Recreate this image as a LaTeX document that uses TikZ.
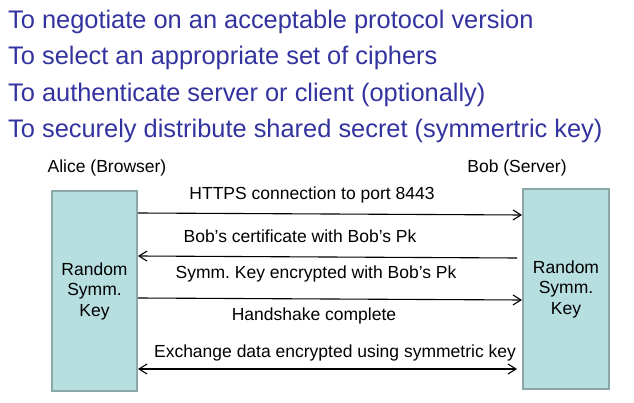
\documentclass[tikz,border=0pt]{standalone}
\usepackage{fontspec}
\setmainfont{Liberation Sans}
\usetikzlibrary{arrows.meta}
\frenchspacing

\definecolor{goaltext}{RGB}{51,51,160}
\definecolor{keyfill}{RGB}{183,223,224}
\definecolor{keyline}{RGB}{138,168,168}

\tikzset{
  goal/.style = {anchor=base west, inner sep=0pt, text=goaltext, font=\fontsize{25.4}{30}\selectfont},
  party/.style = {anchor=base, inner sep=0pt, font=\fontsize{17.5}{21}\selectfont},
  keybox/.style = {draw=keyline, fill=keyfill, line width=2pt, align=center,
    font=\fontsize{17.5}{20.5}\selectfont},
  msglabel/.style = {anchor=base, inner sep=0pt, font=\fontsize{17.5}{21}\selectfont},
  msg/.style = {line width=1.1pt, -{Straight Barb[length=8pt,width=10pt]}}
}

\begin{document}
\begin{tikzpicture}[x=1pt,y=-1pt]
  \useasboundingbox (0,0) rectangle (634,403);

  \node[goal] (g1) at (8,28.3) {To negotiate on an acceptable protocol version};
  \node[goal] (g2) at (8,64.8) {To select an appropriate set of ciphers};
  \node[goal] (g3) at (8,101.3) {To authenticate server or client (optionally)};
  \node[goal] (g4) at (8,137.8) {To securely distribute shared secret (symmertric key)};

  \node[party] (alicename) at (107,173) {Alice (Browser)};
  \node[party] (bobname) at (517,173) {Bob (Server)};

  \node[keybox, minimum width=85pt, minimum height=200pt] (alice) at (94.5,291) {Random\\Symm.\\Key};
  \node[keybox, minimum width=86pt, minimum height=200pt] (bob) at (566,289) {Random\\Symm.\\Key};

  \coordinate (certstart) at (517,258);
  \coordinate (dataend) at (517,369);

  \draw[msg] (alice.east |- 0,213) -- (bob.west |- 0,215);
  \draw[msg] (certstart) -- (alice.east |- 0,256);
  \draw[msg] (alice.east |- 0,298) -- (bob.west |- 0,300);
  \draw[msg, {Straight Barb[length=8pt,width=10pt]}-{Straight Barb[length=8pt,width=10pt]}] (alice.east |- 0,369) -- (dataend);

  \node[msglabel] (l1) at (312,200) {HTTPS connection to port 8443};
  \node[msglabel] (l2) at (300,243) {Bob’s certificate with Bob’s Pk};
  \node[msglabel] (l3) at (316,278) {Symm. Key encrypted with Bob’s Pk};
  \node[msglabel] (l4) at (314,320) {Handshake complete};
  \node[msglabel] (l5) at (335,357) {Exchange data encrypted using symmetric key};
\end{tikzpicture}
\end{document}
